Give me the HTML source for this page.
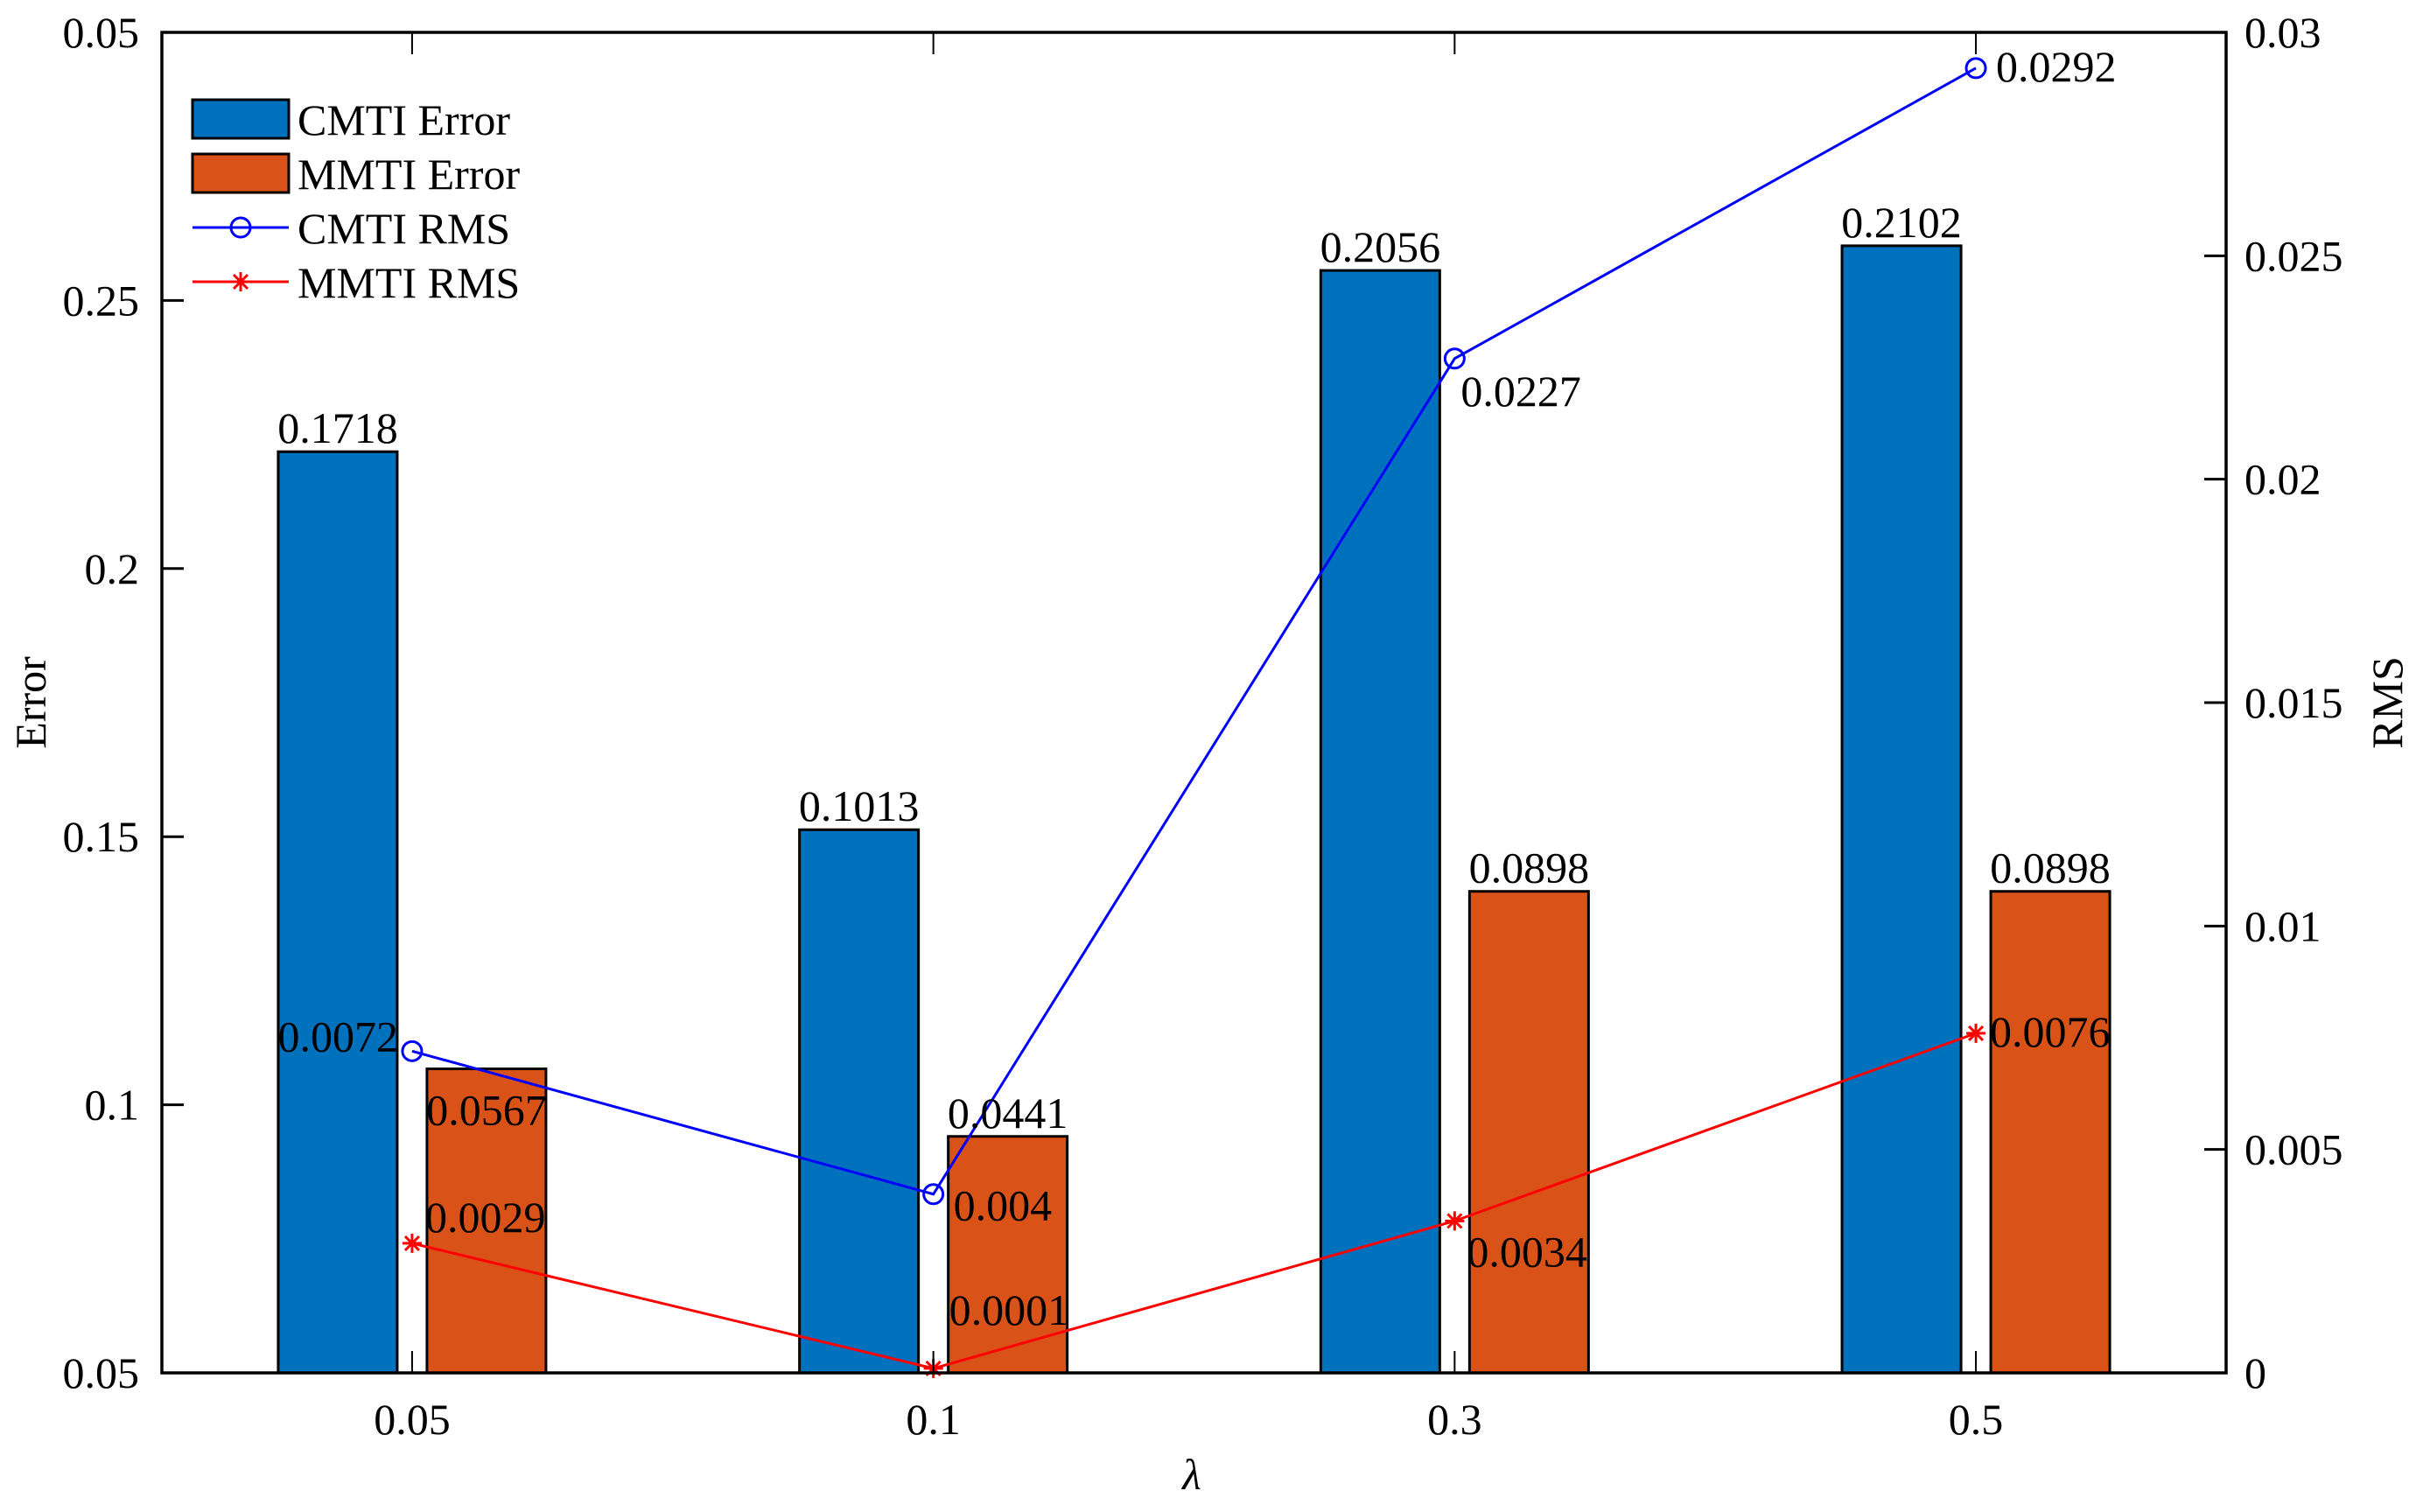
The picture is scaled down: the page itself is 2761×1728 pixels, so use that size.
<!DOCTYPE html>
<html><head><meta charset="utf-8"><style>
html,body{margin:0;padding:0;background:#fff;}
svg, svg text{font-family:"Liberation Serif","Times New Roman",serif;}
svg{display:block;}
</style></head><body>
<svg id="chart" width="2761" height="1728" viewBox="0 0 2761 1728" xmlns="http://www.w3.org/2000/svg" font-family="Liberation Serif, serif">
<rect width="2761" height="1728" fill="#fff"/>
<g id="bars"></g><g id="lines"></g><g id="labels"></g><g id="axes"></g><g id="legend"></g>
</svg>
<script>
const categories = ["0.05","0.1","0.3","0.5"];
const cmtiError = [0.1718, 0.1013, 0.2056, 0.2102];
const mmtiError = [0.0567, 0.0441, 0.0898, 0.0898];
const cmtiRms = [0.0072, 0.004, 0.0227, 0.0292];
const mmtiRms = [0.0029, 0.0001, 0.0034, 0.0076];
const leftTicks = [0.05, 0.1, 0.15, 0.2, 0.25, 0.3];
const leftTickLabels = ["0.05","0.1","0.15","0.2","0.25","0.05"];
const rightTicks = [0, 0.005, 0.01, 0.015, 0.02, 0.025, 0.03];
const rightTickLabels = ["0","0.005","0.01","0.015","0.02","0.025","0.03"];

const NS="http://www.w3.org/2000/svg";
const L=185,R=2544,T=37,B=1569;
const xmin=0.52,xmax=4.48;
function xs(i){return L+(i+1-xmin)/(xmax-xmin)*(R-L);}
function yl(v){return B-(v-0.05)/0.25*(B-T);}
function yr(v){return B-v/0.03*(B-T);}
function mk(tag,attrs,parent,text){const e=document.createElementNS(NS,tag);for(const k in attrs)e.setAttribute(k,attrs[k]);if(text!==undefined){e.textContent=text;e.setAttribute('font-family','Liberation Serif, serif');}parent.appendChild(e);return e;}
const gB=document.getElementById('bars'),gL=document.getElementById('lines'),gT=document.getElementById('labels'),gA=document.getElementById('axes'),gG=document.getElementById('legend');
const BW=136,OFF=85,FS=50;

categories.forEach((c,i)=>{
  const cx=xs(i);
  let y=yl(0.05+cmtiError[i]);
  let r=mk('rect',{x:cx-OFF-BW/2,y:y,width:BW,height:B-y,fill:'#0072bd',stroke:'#000','stroke-width':3},gB);
  
  
  let t=mk('text',{x:cx-OFF,y:y-10,'font-size':FS,'text-anchor':'middle'},gT,String(cmtiError[i]));
  
  
  y=yl(0.05+mmtiError[i]);
  r=mk('rect',{x:cx+OFF-BW/2,y:y,width:BW,height:B-y,fill:'#d95319',stroke:'#000','stroke-width':3},gB);
  
  
  const inside = i===0;
  t=mk('text',{x:cx+OFF,y:inside?y+64:y-10,'font-size':FS,'text-anchor':'middle'},gT,String(mmtiError[i]));
  
  
});

function series(vals,color,name,marker,offs){
  const pts=vals.map((v,i)=>[xs(i),yr(v)]);
  const pl=mk('polyline',{points:pts.map(p=>p.join(',')).join(' '),fill:'none',stroke:color,'stroke-width':3},gL);
  
  
  pts.forEach((p,i)=>{
    let m;
    if(marker==='o'){m=mk('circle',{cx:p[0],cy:p[1],r:11,fill:'none',stroke:color,'stroke-width':3},gL);}
    else{m=mk('path',{d:`M${p[0]-11},${p[1]}h22M${p[0]},${p[1]-11}v22M${p[0]-8},${p[1]-8}l16,16M${p[0]-8},${p[1]+8}l16,-16`,stroke:color,'stroke-width':3,fill:'none'},gL);}
    
    
    const o=offs[i];
    const t=mk('text',{x:p[0]+o[0],y:p[1]+o[1],'font-size':FS,'text-anchor':o[2]||'start'},gT,String(vals[i]));
    
    
  });
}
series(cmtiRms,'#0000ff','cmti-rms','o',[[-16,0,'end'],[23,30],[7,54],[23,15]]);
series(mmtiRms,'#ff0000','mmti-rms','*',[[15,-13],[18,-50],[14,52],[16,15]]);

const box=mk('rect',{x:L,y:T,width:R-L,height:B-T,fill:'none',stroke:'#000','stroke-width':3.5},gA);


leftTicks.forEach((v,i)=>{
  const y=yl(v);
  mk('line',{x1:L,x2:L+25,y1:y,y2:y,stroke:'#000','stroke-width':3},gA);
  const t=mk('text',{x:159,y:y+17,'font-size':FS,'text-anchor':'end'},gA,leftTickLabels[i]);
  
  
});
rightTicks.forEach((v,i)=>{
  const y=yr(v);
  mk('line',{x1:R-25,x2:R,y1:y,y2:y,stroke:'#000','stroke-width':3},gA);
  const t=mk('text',{x:2565,y:y+17,'font-size':FS,'text-anchor':'start'},gA,rightTickLabels[i]);
  
  
});
categories.forEach((c,i)=>{
  const x=xs(i);
  mk('line',{x1:x,x2:x,y1:B,y2:B-25,stroke:'#000','stroke-width':2},gA);
  mk('line',{x1:x,x2:x,y1:T,y2:T+25,stroke:'#000','stroke-width':2},gA);
  const t=mk('text',{x:x,y:1639,'font-size':FS,'text-anchor':'middle'},gA,c);
  
  
});
let t=mk('text',{x:0,y:0,'font-size':FS,'text-anchor':'middle',transform:'translate(52,803) rotate(-90)'},gA,'Error');


t=mk('text',{x:0,y:0,'font-size':FS,'text-anchor':'middle',transform:'translate(2745,803) rotate(-90)'},gA,'RMS');


t=mk('text',{x:1362,y:1702,'font-size':FS,'font-style':'italic','text-anchor':'middle'},gA,'λ');



const lg=[['CMTI Error','bar','#0072bd'],['MMTI Error','bar','#d95319'],['CMTI RMS','o','#0000ff'],['MMTI RMS','*','#ff0000']];
lg.forEach((e,i)=>{
  const cy=136+i*62;
  const g=mk('g',{},gG);
  
  
  if(e[1]==='bar'){mk('rect',{x:220,y:cy-22,width:110,height:44,fill:e[2],stroke:'#000','stroke-width':3},g);}
  else{
    mk('line',{x1:220,x2:330,y1:cy,y2:cy,stroke:e[2],'stroke-width':3},g);
    if(e[1]==='o')mk('circle',{cx:275,cy:cy,r:11,fill:'none',stroke:e[2],'stroke-width':3},g);
    else mk('path',{d:`M264,${cy}h22M275,${cy-11}v22M267,${cy-8}l16,16M267,${cy+8}l16,-16`,stroke:e[2],'stroke-width':3},g);
  }
  mk('text',{x:340,y:cy+18,'font-size':FS},g,e[0]);
});
</script>
</body></html>
